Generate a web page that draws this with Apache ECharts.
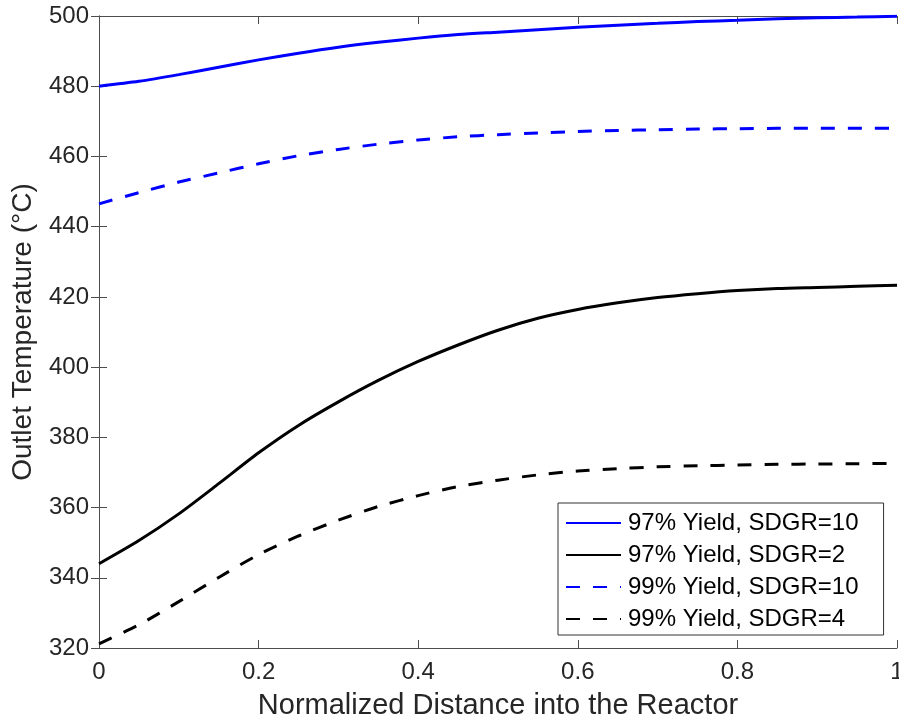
<!DOCTYPE html>
<html>
<head>
<meta charset="utf-8">
<script src="https://cdn.jsdelivr.net/npm/echarts@6/dist/echarts.min.js"></script>
<style>
  html, body { margin: 0; padding: 0; background: #fff; }
  #chart { width: 899px; height: 721px; }
</style>
</head>
<body>
<div id="chart"></div>
<script>
// Normalized distance along the reactor
const distance = [0, 0.05, 0.1, 0.15, 0.2, 0.25, 0.3, 0.35, 0.4, 0.45, 0.5,
                  0.55, 0.6, 0.65, 0.7, 0.75, 0.8, 0.85, 0.9, 0.95, 1.0];

// Outlet temperature profiles (°C)
const yield97Sdgr10 = [480.0, 481.4, 483.3, 485.4, 487.5, 489.4, 491.1, 492.5, 493.7, 494.7, 495.4,
                       496.1, 496.8, 497.4, 497.9, 498.4, 498.8, 499.2, 499.5, 499.7, 499.9];
const yield97Sdgr2  = [344.0, 350.6, 358.2, 366.8, 375.6, 383.4, 390.1, 396.2, 401.6, 406.3, 410.5,
                       413.9, 416.4, 418.3, 419.8, 420.9, 421.8, 422.4, 422.7, 423.0, 423.3];
const yield99Sdgr10 = [446.5, 449.7, 452.7, 455.3, 457.9, 460.2, 462.0, 463.5, 464.7, 465.6, 466.2,
                       466.7, 467.1, 467.4, 467.6, 467.8, 467.9, 468.0, 468.0, 468.0, 468.0];
const yield99Sdgr4  = [321.2, 326.6, 333.2, 340.1, 346.6, 351.9, 356.4, 360.3, 363.4, 366.0, 367.8,
                       369.3, 370.4, 371.1, 371.6, 371.9, 372.1, 372.3, 372.4, 372.5, 372.6];

const seriesNames = ['97% Yield, SDGR=10', '97% Yield, SDGR=2', '99% Yield, SDGR=10', '99% Yield, SDGR=4'];
const xTitle = 'Normalized Distance into the Reactor';
const yTitle = 'Outlet Temperature (°C)';

const FONT = '"Liberation Sans", Arial, Helvetica, sans-serif';
const AXIS_COLOR = '#4d4d4d';
const TEXT_COLOR = '#262626';
const DASH = [14, 13];

function pairs(ys) {
  return distance.map((x, i) => [x, ys[i]]);
}

function lineSeries(name, ys, color, dashed) {
  return {
    name: name,
    type: 'line',
    xAxisIndex: 0,
    yAxisIndex: 0,
    data: pairs(ys),
    showSymbol: false,
    symbol: 'none',
    smooth: 0.25,
    animation: false,
    lineStyle: { color: color, width: 3, type: dashed ? DASH : 'solid' },
    itemStyle: { color: color }
  };
}

const frameAxisCommon = {
  axisLine: { show: true, lineStyle: { color: AXIS_COLOR, width: 1 } },
  axisTick: { show: true, inside: true, length: 8, lineStyle: { color: AXIS_COLOR, width: 1 } },
  splitLine: { show: false }
};

const chart = echarts.init(document.getElementById('chart'), null, { renderer: 'canvas' });

chart.setOption({
  backgroundColor: '#ffffff',
  animation: false,
  grid: { left: 99, right: 2, top: 16, bottom: 73, containLabel: false, outerBoundsMode: 'none' },
  xAxis: [
    Object.assign({
      type: 'value', position: 'bottom', min: 0, max: 1, interval: 0.2,
      name: xTitle, nameLocation: 'middle', nameGap: 43,
      nameTextStyle: { fontFamily: FONT, fontSize: 29, color: TEXT_COLOR },
      axisLabel: { fontFamily: FONT, fontSize: 24, color: TEXT_COLOR, margin: 12 }
    }, frameAxisCommon),
    Object.assign({
      type: 'value', position: 'top', min: 0, max: 1, interval: 0.2,
      axisLabel: { show: false }
    }, frameAxisCommon)
  ],
  yAxis: [
    Object.assign({
      type: 'value', position: 'left', min: 320, max: 500, interval: 20,
      name: yTitle, nameLocation: 'middle', nameGap: 62,
      nameTextStyle: { fontFamily: FONT, fontSize: 28, color: TEXT_COLOR },
      axisLabel: { fontFamily: FONT, fontSize: 24, color: TEXT_COLOR, margin: 10 }
    }, frameAxisCommon),
    Object.assign({
      type: 'value', position: 'right', min: 320, max: 500, interval: 20,
      axisLabel: { show: false }
    }, frameAxisCommon)
  ],
  legend: {
    orient: 'vertical',
    left: 558,
    top: 503,
    padding: [8, 25, 4, 7],
    itemGap: 8,
    itemWidth: 55,
    itemHeight: 14,
    backgroundColor: '#ffffff',
    borderColor: '#333333',
    borderWidth: 1,
    borderRadius: 0,
    selectedMode: false,
    itemStyle: { opacity: 0 },
    textStyle: { fontFamily: FONT, fontSize: 24, color: '#000000', padding: [0, 0, 0, 2] },
    data: seriesNames
  },
  series: [
    lineSeries(seriesNames[0], yield97Sdgr10, '#0000ff', false),
    lineSeries(seriesNames[1], yield97Sdgr2, '#000000', false),
    lineSeries(seriesNames[2], yield99Sdgr10, '#0000ff', true),
    lineSeries(seriesNames[3], yield99Sdgr4, '#000000', true)
  ]
});
</script>
</body>
</html>
